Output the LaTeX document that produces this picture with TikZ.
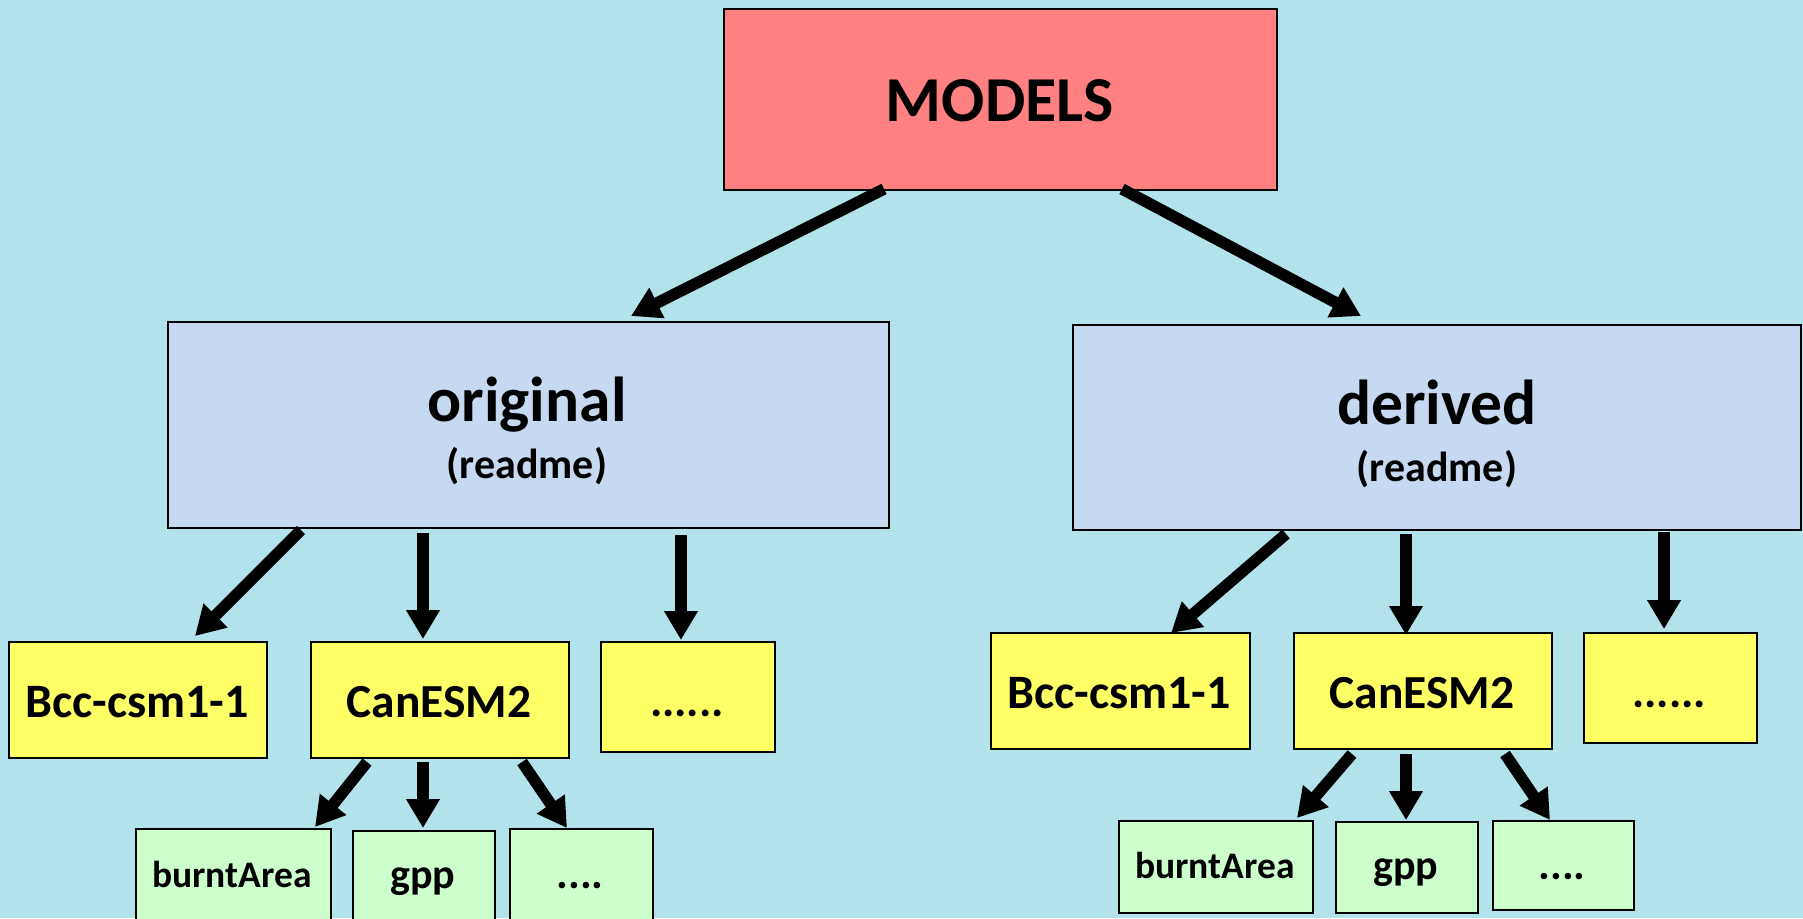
\documentclass[tikz,border=0pt]{standalone}
\usepackage{fontspec}
\setmainfont{Carlito}
\usetikzlibrary{arrows.meta,calc}
\definecolor{bgcol}{RGB}{178,226,234}
\definecolor{modelscol}{RGB}{255,128,128}
\definecolor{bluecol}{RGB}{198,217,240}
\definecolor{yellowcol}{RGB}{255,255,102}
\definecolor{greencol}{RGB}{204,255,204}
\tikzset{
  box/.style={draw=black, line width=2pt, inner sep=0pt, anchor=north west},
  redbox/.style={box, fill=modelscol},
  bluebox/.style={box, fill=bluecol},
  yelbox/.style={box, fill=yellowcol},
  grnbox/.style={box, fill=greencol},
  lbl/.style={anchor=base, inner sep=0pt, font=\bfseries},
  arr/.style={line width=11.5pt, -{Triangle[length=29pt,width=32pt]}},
}
\begin{document}
\begin{tikzpicture}[x=1pt,y=-1pt]
\useasboundingbox (0,0) rectangle (1803,918);
\fill[bgcol] (0,0) rectangle (1803,918);
% boxes
\node[redbox, minimum width=553pt, minimum height=181pt] (models) at (723,8) {};
\node[bluebox, minimum width=721pt, minimum height=206pt] (orig) at (166.5,321) {};
\node[bluebox, minimum width=728pt, minimum height=205pt] (der) at (1072,324) {};
% original children
\node[yelbox, minimum width=258.5pt, minimum height=116pt] (ob) at (7.5,641) {};
\node[yelbox, minimum width=258pt, minimum height=116pt] (oc) at (310,641) {};
\node[yelbox, minimum width=174pt, minimum height=110pt] (od) at (600,641) {};
\node[grnbox, minimum width=195pt, minimum height=100pt] (oba) at (135,828) {};
\node[grnbox, minimum width=142pt, minimum height=100pt] (ogp) at (352,830) {};
\node[grnbox, minimum width=143pt, minimum height=100pt] (odt) at (509,828) {};
% derived children
\node[yelbox, minimum width=259pt, minimum height=116pt] (db) at (990,632) {};
\node[yelbox, minimum width=258pt, minimum height=116pt] (dc) at (1293,632) {};
\node[yelbox, minimum width=173pt, minimum height=110pt] (dd) at (1583,632) {};
\node[grnbox, minimum width=194pt, minimum height=92pt] (dba) at (1118,820) {};
\node[grnbox, minimum width=142pt, minimum height=91pt] (dgp) at (1335,821) {};
\node[grnbox, minimum width=141pt, minimum height=89pt] (ddt) at (1492,820) {};
% labels
\node[lbl, font=\bfseries\fontsize{64}{64}\selectfont] (modelsT) at (1000,121) {MODELS};
\node[lbl, font=\bfseries\fontsize{63.5}{63.5}\selectfont] (origT) at (527,421) {original};
\node[lbl, font=\bfseries\fontsize{42}{42}\selectfont] (origR) at (527,478) {(readme)};
\node[lbl, font=\bfseries\fontsize{63.5}{63.5}\selectfont] (derT) at (1437,424) {derived};
\node[lbl, font=\bfseries\fontsize{42}{42}\selectfont] (derR) at (1437,481) {(readme)};
\node[lbl, font=\bfseries\fontsize{48}{48}\selectfont] (obT) at (137,717) {Bcc-csm1-1};
\node[lbl, font=\bfseries\fontsize{47.5}{47.5}\selectfont] (ocT) at (439,717) {CanESM2};
\node[lbl, font=\bfseries\fontsize{46}{46}\selectfont] (odT) at (687,716) {......};
\node[lbl, font=\bfseries\fontsize{37.5}{37.5}\selectfont] (obaT) at (232,887) {burntArea};
\node[lbl, font=\bfseries\fontsize{42}{42}\selectfont] (ogpT) at (423,888) {gpp};
\node[lbl, font=\bfseries\fontsize{44}{44}\selectfont] (odtT) at (580,888) {....};
\node[lbl, font=\bfseries\fontsize{48}{48}\selectfont] (dbT) at (1119,708) {Bcc-csm1-1};
\node[lbl, font=\bfseries\fontsize{47.5}{47.5}\selectfont] (dcT) at (1422,708) {CanESM2};
\node[lbl, font=\bfseries\fontsize{46}{46}\selectfont] (ddT) at (1669,707) {......};
\node[lbl, font=\bfseries\fontsize{37.5}{37.5}\selectfont] (dbaT) at (1215,878) {burntArea};
\node[lbl, font=\bfseries\fontsize{42}{42}\selectfont] (dgpT) at (1406,879) {gpp};
\node[lbl, font=\bfseries\fontsize{44}{44}\selectfont] (ddtT) at (1562,879) {....};
% arrows top
\draw[arr] ($(models.south west)+(161,-2)$) -- ($(orig.north west)+(464.5,-5)$);
\draw[arr] ($(models.south west)+(399,-2)$) -- ($(der.north west)+(289,-8)$);
% original -> children
\draw[arr] ($(orig.south west)+(134.5,1)$) -- ($(ob.north west)+(187.5,-5)$);
\draw[arr] ($(orig.south west)+(256.5,4)$) -- ($(oc.north west)+(113,-2)$);
\draw[arr] ($(orig.south west)+(514.5,6)$) -- ($(od.north west)+(81,-1)$);
% derived -> children
\draw[arr] ($(der.south west)+(214,3)$) -- ($(db.north west)+(181,1)$);
\draw[arr] ($(der.south west)+(334,3)$) -- ($(dc.north west)+(113,3)$);
\draw[arr] ($(der.south west)+(592,1)$) -- ($(dd.north west)+(81,-3)$);
% CanESM2 (original) -> variables
\draw[arr] ($(oc.south west)+(57,3)$) -- ($(oba.north west)+(180,-1)$);
\draw[arr] ($(oc.south west)+(113,3)$) -- ($(ogp.north west)+(71,-2)$);
\draw[arr] ($(oc.south west)+(212,3)$) -- ($(odt.north west)+(58,0)$);
% CanESM2 (derived) -> variables
\draw[arr] ($(dc.south west)+(59,4)$) -- ($(dba.north west)+(179,-2)$);
\draw[arr] ($(dc.south west)+(113,4)$) -- ($(dgp.north west)+(71,-1)$);
\draw[arr] ($(dc.south west)+(212,4)$) -- ($(ddt.north west)+(58,0)$);
\end{tikzpicture}
\end{document}
